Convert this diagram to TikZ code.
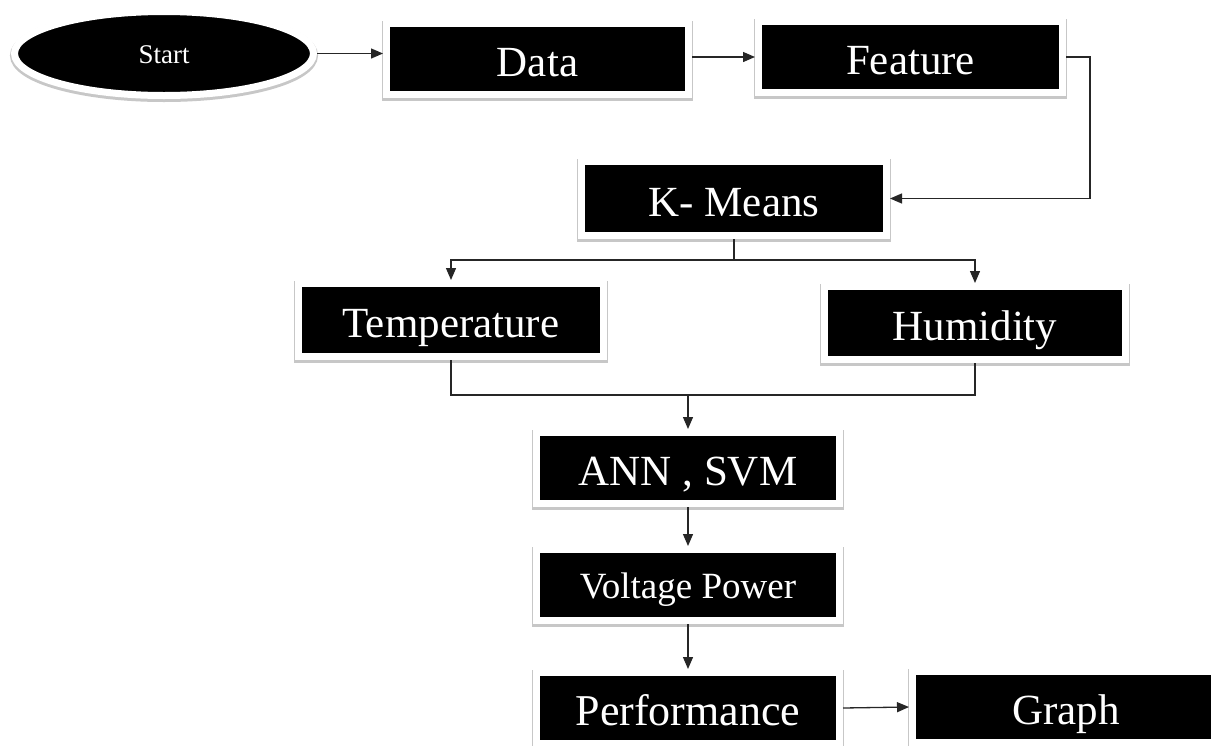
\documentclass[tikz,border=0pt]{standalone}
\usepackage{fontspec}
\setmainfont{Liberation Serif}
\usetikzlibrary{arrows.meta,shapes.geometric}
\tikzset{
  blk/.style={rectangle, fill=black, draw=white, line width=7pt, inner sep=0pt,
    text=white, font=\fontsize{43}{48}\selectfont, text height=35pt, text depth=0pt,
    preaction={draw=black!22, line width=9pt, transform canvas={yshift=-2pt}}},
  startnode/.style={ellipse, fill=black, draw=white, line width=7pt, inner sep=0pt,
    text=white, font=\fontsize{27}{30}\selectfont, text height=19pt, text depth=0pt,
    preaction={draw=black!22, line width=9pt, transform canvas={yshift=-2pt}}},
  conn/.style={draw=black!85, line width=1.3pt},
  arr/.style={conn, -{Triangle[length=12pt,width=10pt]}}
}
\begin{document}
\begin{tikzpicture}[x=1pt,y=-1pt]
\useasboundingbox (0,0) rectangle (1211,745);
\clip (0,0) rectangle (1211,745);
\fill[white] (0,0) rectangle (1211,745);
\node[startnode, minimum width=299pt, minimum height=84pt] (start) at (164,53.5) {Start};
\node[blk, minimum width=302pt, minimum height=71pt] (data) at (537.5,59) {Data};
\node[blk, minimum width=304pt, minimum height=71pt] (feature) at (910.5,57) {Feature};
\node[blk, minimum width=305pt, minimum height=74pt] (kmeans) at (734,198.5) {K- Means};
\node[blk, minimum width=305pt, minimum height=73pt] (temp) at (451,320) {Temperature};
\node[blk, minimum width=301pt, minimum height=73pt] (humid) at (975,323) {Humidity};
\node[blk, minimum width=303pt, minimum height=71pt] (ann) at (688,468) {ANN , SVM};
\node[blk, minimum width=303pt, minimum height=71pt, font=\fontsize{37}{42}\selectfont, text height=26pt] (volt) at (688,585) {Voltage Power};
\node[blk, minimum width=303pt, minimum height=71pt, font=\fontsize{44}{48}\selectfont] (perf) at (688,708) {Performance};
\node[blk, minimum width=307pt, minimum height=71pt] (graph) at (1066,707) {Graph};
\coordinate (kb) at (734,260);
\coordinate (j) at (688,395);
\coordinate (fr) at (1090,57);
\draw[arr] (start.east) -- (start.east -| data.west);
\draw[arr] (data.east |- feature.west) -- (feature.west);
\draw[arr] (feature.east) -- (fr) |- (kmeans.east);
\draw[conn] (kmeans.south) -- (kb);
\draw[arr] (kb) -| (temp.north);
\draw[arr] (kb) -| (humid.north);
\draw[conn] (temp.south) |- (j) -| (humid.south);
\draw[arr] (j) -- (ann.north);
\draw[arr] (ann.south) -- (volt.north);
\draw[arr] (volt.south) -- (perf.north);
\draw[arr] (perf.east) -- (graph.west);
\end{tikzpicture}
\end{document}
